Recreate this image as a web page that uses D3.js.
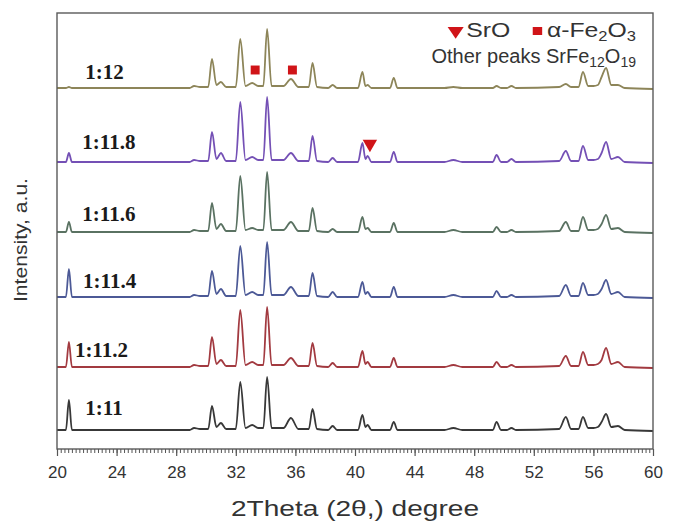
<!DOCTYPE html>
<html>
<head>
<meta charset="utf-8">
<script src="https://cdn.jsdelivr.net/npm/d3@7"></script>
<style>
  body { margin: 0; background: #fff; }
  svg { display: block; }
</style>
</head>
<body>
<script>
// 2theta sample points (degree), shared by every pattern
const twoTheta = [20.0, 20.6, 20.8, 21.0, 24.0, 28.0, 28.9, 29.2, 29.6, 30.15,
  30.4, 30.7, 31.0, 31.35, 32.0, 32.3, 32.65, 33.1, 33.5, 33.85,
  34.1, 34.4, 35.2, 35.7, 36.2, 36.9, 37.15, 37.45, 38.2, 38.5,
  38.8, 40.2, 40.5, 40.7, 40.85, 41.1, 42.35, 42.6, 42.85, 46.0,
  46.6, 47.2, 49.25, 49.5, 49.8, 50.2, 50.5, 50.8, 53.7, 54.15,
  54.5, 55.0, 55.3, 55.65, 56.0, 56.3, 56.55, 56.85, 57.2, 57.65,
  58.1, 60.0];

// Sr:Fe ratios, bottom to top
const ratios = ['1:11', '1:11.2', '1:11.4', '1:11.6', '1:11.8', '1:12'];
// vertical offset of each pattern (a.u.)
const baseOffset = [19, 82, 152, 217, 287, 361];

// intensity above baseline (a.u.) at each twoTheta point
const int_11 = [0,0,30,0,0,0,0,2,1,1,24,3,7,1,1,48,2,5,2,2,53,2,2,12,1,1,21,1,0,4,0,0,15,3,5,0,0,8,0,0,2,0,0,8,0,0,2,0,1,13,1,1,13,2,2,3,8,16,3,4,0,-1];
const int_11_2 = [0,0,25,0,0,0,0,2,1,1,30,3,7,1,1,57,2,5,2,2,60,2,2,9,1,1,24,1,0,4,0,0,16,3,5,0,0,9,0,0,2,0,0,5,0,0,2,0,1,11,1,1,15,2,2,3,7,19,3,5,0,-1];
const int_11_4 = [0,0,28,0,0,0,0,2,1,1,26,3,8,1,1,51,2,5,2,2,55,2,2,10,1,1,24,1,0,5,0,0,15,3,5,0,0,10,0,0,2,0,0,6,0,0,2,0,1,12,1,1,14,2,2,3,8,17,3,5,0,-1];
const int_11_6 = [0,0,10,0,0,0,0,2,1,1,29,3,8,1,1,56,2,4,2,2,60,2,2,10,1,1,24,1,0,3,0,0,15,3,4,0,0,9,0,0,2,0,0,5,0,0,2,0,1,10,1,1,15,2,2,3,8,17,3,4,0,-1];
const int_11_8 = [0,0,9,0,0,0,0,2,1,1,30,3,9,1,1,60,2,5,2,2,65,2,2,9,1,1,26,1,0,4,0,0,19,3,6,0,0,10,0,0,2,0,0,7,0,0,3,0,1,11,1,1,16,2,2,3,9,20,3,5,0,-1];
const int_12 = [0,0,1,0,0,0,0,2,1,1,29,3,6,1,1,49,2,5,2,2,59,2,2,9,1,1,25,1,0,3,0,0,16,2,3,0,0,10,0,0,1,0,0,2,0,0,2,0,1,4,1,1,16,2,2,3,11,20,3,3,0,-1];

// impurity phase markers: pattern, 2theta, height above baseline
const fe2o3Marks = [['1:12', 33.3, 18], ['1:12', 35.8, 18]];
const sroMarks = [['1:11.8', 41.0, 18]];

const xTicks = [20, 24, 28, 32, 36, 40, 44, 48, 52, 56, 60];

// ---- layout ----
const W = 673, H = 525;
const m = { left: 57, right: 20, top: 13, bottom: 76 };
const colors = ['#383838', '#a23a40', '#4c5996', '#5a7262', '#7450b5', '#8d8559'];
const labelTheta = [21.9, 21.2, 21.75, 21.7, 21.7, 21.9];
const labelLift = [15, 10, 9, 11, 13, 9];
const red = '#d01418';

const intensities = [int_11, int_11_2, int_11_4, int_11_6, int_11_8, int_12];
const series = ratios.map((r, i) => ({
  name: r,
  offset: baseOffset[i],
  color: colors[i],
  values: twoTheta.map((t, j) => ({ t: t, v: intensities[i][j] }))
}));

const x = d3.scaleLinear().domain([20, 60]).range([m.left, W - m.right]);
const y = d3.scaleLinear().domain([0, 436]).range([H - m.bottom, m.top]);

const svg = d3.select('body').append('svg')
  .attr('width', W)
  .attr('height', H);

const line = d3.line()
  .curve(d3.curveMonotoneX)
  .x(d => x(d.t))
  .y(d => d.y);

svg.append('g').selectAll('path')
  .data(series)
  .enter()
  .append('path')
  .attr('fill', 'none')
  .attr('stroke', d => d.color)
  .attr('stroke-width', 1.8)
  .attr('stroke-linejoin', 'round')
  .attr('d', s => line(s.values.map(p => ({ t: p.t, y: y(s.offset + p.v) }))));

// ratio labels
svg.append('g').selectAll('text')
  .data(series)
  .enter()
  .append('text')
  .attr('x', (d, i) => x(labelTheta[i]))
  .attr('y', (d, i) => y(d.offset + labelLift[i]))
  .attr('font-family', '"Liberation Serif", "Times New Roman", serif')
  .attr('font-weight', 'bold')
  .attr('font-size', 21)
  .attr('fill', '#1a1a1a')
  .text(d => d.name);

const offsetOf = name => baseOffset[ratios.indexOf(name)];

// phase markers
svg.append('g').selectAll('path')
  .data(fe2o3Marks)
  .enter()
  .append('path')
  .attr('d', d3.symbol(d3.symbolSquare, 80))
  .attr('fill', red)
  .attr('transform', d => `translate(${x(d[1])},${y(offsetOf(d[0]) + d[2])})`);

svg.append('g').selectAll('path')
  .data(sroMarks)
  .enter()
  .append('path')
  .attr('d', d3.symbol(d3.symbolTriangle, 90))
  .attr('fill', red)
  .attr('transform', d => `translate(${x(d[1])},${y(offsetOf(d[0]) + d[2])}) rotate(180)`);

// frame
svg.append('rect')
  .attr('x', m.left)
  .attr('y', m.top)
  .attr('width', W - m.left - m.right)
  .attr('height', H - m.top - m.bottom)
  .attr('fill', 'none')
  .attr('stroke', '#5a5a5a')
  .attr('stroke-width', 1.4);

// x axis, minor then major ticks
const axisY = H - m.bottom;
svg.append('g')
  .attr('transform', `translate(0,${axisY})`)
  .call(d3.axisBottom(x).tickValues(d3.range(20, 60.001, 0.25)).tickSize(4).tickFormat(''))
  .call(g => g.select('.domain').remove())
  .call(g => g.selectAll('line').attr('stroke', '#555'));

svg.append('g')
  .attr('transform', `translate(0,${axisY})`)
  .call(d3.axisBottom(x).tickValues(xTicks).tickSize(7).tickPadding(10).tickFormat(d3.format('d')))
  .call(g => g.select('.domain').remove())
  .call(g => g.selectAll('line').attr('stroke', '#555').attr('stroke-width', 1.2))
  .call(g => g.selectAll('text')
    .attr('font-family', '"Liberation Sans", Arial, sans-serif')
    .attr('font-size', 17)
    .attr('fill', '#333'));

// axis titles
svg.append('text')
  .attr('x', (m.left + W - m.right) / 2)
  .attr('y', 516)
  .attr('text-anchor', 'middle')
  .attr('font-family', '"Liberation Sans", Arial, sans-serif')
  .attr('font-size', 22)
  .attr('textLength', 248)
  .attr('lengthAdjust', 'spacingAndGlyphs')
  .attr('fill', '#333')
  .text('2Theta (2θ,) degree');

svg.append('text')
  .attr('transform', `translate(27,${(m.top + axisY) / 2 + 9}) rotate(-90)`)
  .attr('text-anchor', 'middle')
  .attr('font-family', '"Liberation Sans", Arial, sans-serif')
  .attr('font-size', 18)
  .attr('textLength', 124)
  .attr('lengthAdjust', 'spacingAndGlyphs')
  .attr('fill', '#333')
  .text('Intensity, a.u.');

// legend (top right, inside frame); first row is drawn a bit wider, as in the figure
const legX = 636;
const stretch = 1.18;
const leg = svg.append('g')
  .attr('font-family', '"Liberation Sans", Arial, sans-serif')
  .attr('fill', '#333');

const row1 = leg.append('g')
  .attr('transform', `translate(${legX},37) scale(${stretch},1)`);

const fe = row1.append('text')
  .attr('x', 0).attr('y', 0)
  .attr('text-anchor', 'end')
  .attr('font-size', 21);
fe.append('tspan').text('α-Fe');
fe.append('tspan').attr('font-size', 14).attr('dy', 4).text('2');
fe.append('tspan').attr('dy', -4).text('O');
fe.append('tspan').attr('font-size', 14).attr('dy', 4).text('3');
const feW = fe.node().getComputedTextLength();
const squareX = -feW - 8;

row1.append('path')
  .attr('d', d3.symbol(d3.symbolSquare, 64))
  .attr('fill', red)
  .attr('transform', `translate(${squareX},-6)`);

const sro = row1.append('text')
  .attr('x', squareX - 23)
  .attr('y', 0)
  .attr('text-anchor', 'end')
  .attr('font-size', 21)
  .text('SrO');
const sroW = sro.node().getComputedTextLength();

row1.append('path')
  .attr('d', d3.symbol(d3.symbolTriangle, 80))
  .attr('fill', red)
  .attr('transform', `translate(${squareX - 23 - sroW - 9},-6) rotate(180)`);

const other = leg.append('text')
  .attr('x', legX).attr('y', 63)
  .attr('text-anchor', 'end')
  .attr('font-size', 20);
other.append('tspan').text('Other peaks SrFe');
other.append('tspan').attr('font-size', 14).attr('dy', 4).text('12');
other.append('tspan').attr('dy', -4).text('O');
other.append('tspan').attr('font-size', 14).attr('dy', 4).text('19');
</script>
</body>
</html>
